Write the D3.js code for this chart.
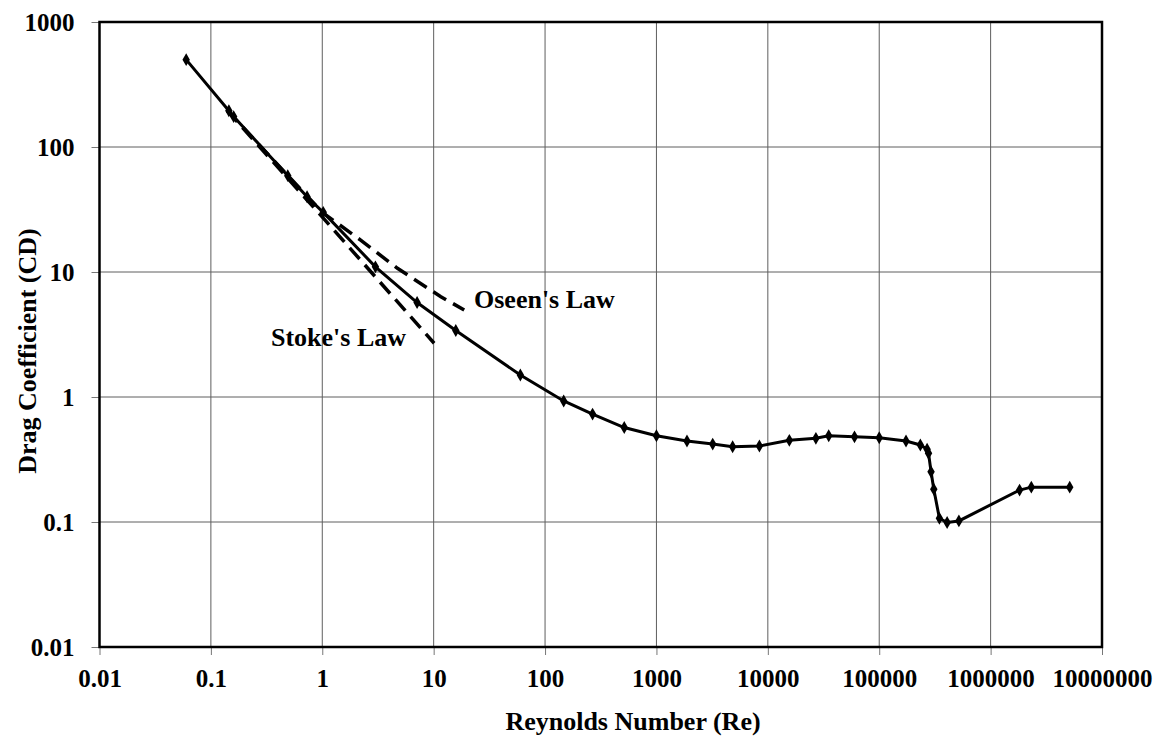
<!DOCTYPE html>
<html>
<head>
<meta charset="utf-8">
<script src="https://cdn.jsdelivr.net/npm/d3@7"></script>
<style>
body { margin: 0; background: #fff; }
text { font-family: "Liberation Serif", "Times New Roman", serif; font-weight: bold; }
</style>
</head>
<body>
<div id="chart"></div>
<script>
//
// Data
//
var reynolds = [0.06, 0.145, 0.16, 0.49, 0.73, 1.02, 3, 7.1, 15.8, 60, 147, 267, 514,
    1000, 1880, 3200, 4830, 8400, 15600, 27000, 35200, 60000, 100000, 174000,
    234000, 269000, 277000, 292000, 309000, 347000, 407000, 519000,
    1820000, 2320000, 5130000];
var dragCoef = [500, 195, 175, 59, 40, 30, 11, 5.7, 3.4, 1.5, 0.93, 0.73, 0.57,
    0.49, 0.445, 0.42, 0.40, 0.405, 0.45, 0.467, 0.49, 0.48, 0.472, 0.445,
    0.413, 0.382, 0.355, 0.252, 0.183, 0.107, 0.099, 0.102,
    0.18, 0.19, 0.19];

// Stoke's law dashed line
var stokesRe = [0.14, 1.27, 10.1];
var stokesCd = [196, 21.7, 2.69];

// Oseen's law dashed line
var oseenRe = [0.14, 0.5, 1, 1.37, 2.21, 4.73, 11.6, 18.8];
var oseenCd = [196, 58, 30, 24.5, 18, 10.7, 6.34, 4.97];

var xTicks = [0.01, 0.1, 1, 10, 100, 1000, 10000, 100000, 1000000, 10000000];
var yTicks = [0.01, 0.1, 1, 10, 100, 1000];

//
// Layout
//
var width = 1161,
    height = 737,
    margin = {top: 22, right: 59, bottom: 90, left: 99.5};

var x = d3.scaleLog().domain([0.01, 1e7]).range([margin.left, width - margin.right]);
var y = d3.scaleLog().domain([0.01, 1000]).range([height - margin.bottom, margin.top]);

var svg = d3.select("#chart").append("svg")
    .attr("width", width)
    .attr("height", height);

// gridlines
svg.append("g")
    .selectAll("line")
    .data(xTicks)
    .enter().append("line")
    .attr("x1", function(d) { return x(d); })
    .attr("x2", function(d) { return x(d); })
    .attr("y1", y(1000))
    .attr("y2", y(0.01))
    .attr("stroke", "#5e5e5e")
    .attr("stroke-width", 1);

svg.append("g")
    .selectAll("line")
    .data(yTicks)
    .enter().append("line")
    .attr("x1", x(0.01))
    .attr("x2", x(1e7))
    .attr("y1", function(d) { return y(d); })
    .attr("y2", function(d) { return y(d); })
    .attr("stroke", "#5e5e5e")
    .attr("stroke-width", 1);

// axes
var fmt = function(d) { return String(+d.toPrecision(1)); };

var xAxis = svg.append("g")
    .attr("transform", "translate(0," + y(0.01) + ")")
    .call(d3.axisBottom(x).tickValues(xTicks).tickFormat(fmt).tickSize(8).tickPadding(8));

var yAxis = svg.append("g")
    .attr("transform", "translate(" + x(0.01) + ",0)")
    .call(d3.axisLeft(y).tickValues(yTicks).tickFormat(fmt).tickSize(8).tickPadding(17));

[xAxis, yAxis].forEach(function(a) {
    a.select(".domain").remove();
    a.selectAll(".tick line").attr("stroke", "#777");
    a.selectAll(".tick text")
        .attr("fill", "#000")
        .style("font-size", "25px")
        .style("font-family", "'Liberation Serif', serif")
        .style("font-weight", "bold");
});
xAxis.selectAll(".tick text").attr("dy", "0.95em");

// frame
svg.append("rect")
    .attr("x", x(0.01))
    .attr("y", y(1000))
    .attr("width", x(1e7) - x(0.01))
    .attr("height", y(0.01) - y(1000))
    .attr("fill", "none")
    .attr("stroke", "#000")
    .attr("stroke-width", 2.5);

// dashed law lines
var line = d3.line()
    .x(function(d) { return x(d[0]); })
    .y(function(d) { return y(d[1]); });

svg.append("path")
    .datum(d3.zip(stokesRe, stokesCd))
    .attr("d", line)
    .attr("fill", "none")
    .attr("stroke", "#000")
    .attr("stroke-width", 3.5)
    .attr("stroke-dasharray", "15,8");

svg.append("path")
    .datum(d3.zip(oseenRe, oseenCd))
    .attr("d", line)
    .attr("fill", "none")
    .attr("stroke", "#000")
    .attr("stroke-width", 3.5)
    .attr("stroke-dasharray", "15,8");

// drag curve
var pts = d3.zip(reynolds, dragCoef);

svg.append("path")
    .datum(pts)
    .attr("d", line)
    .attr("fill", "none")
    .attr("stroke", "#000")
    .attr("stroke-width", 3);

svg.append("g")
    .selectAll("path")
    .data(pts)
    .enter().append("path")
    .attr("d", d3.symbol().type(d3.symbolDiamond).size(48))
    .attr("transform", function(d) { return "translate(" + x(d[0]) + "," + y(d[1]) + ")"; })
    .attr("fill", "#000");

// labels
svg.append("text")
    .attr("x", 474)
    .attr("y", 308)
    .style("font-size", "26px")
    .text("Oseen's Law");

svg.append("text")
    .attr("x", 271)
    .attr("y", 346)
    .style("font-size", "26px")
    .text("Stoke's Law");

svg.append("text")
    .attr("x", 633)
    .attr("y", 730)
    .attr("text-anchor", "middle")
    .style("font-size", "26px")
    .text("Reynolds Number (Re)");

svg.append("text")
    .attr("transform", "translate(36,351) rotate(-90)")
    .attr("text-anchor", "middle")
    .style("font-size", "26px")
    .text("Drag Coefficient (CD)");
</script>
</body>
</html>
